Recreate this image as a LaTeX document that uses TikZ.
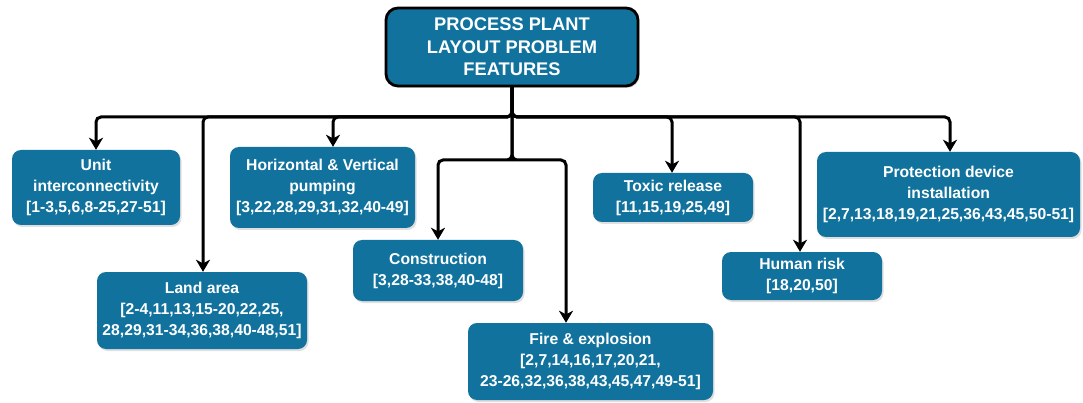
\documentclass[tikz,border=0pt]{standalone}
\usepackage{fontspec}
\setsansfont{Liberation Sans}
\usepackage{tikz}
\usetikzlibrary{calc,positioning,arrows.meta,shadows}
\definecolor{plantblue}{RGB}{16,114,157}

\begin{document}
\begin{tikzpicture}[x=1pt, y=1pt,
  feature/.style = {fill=plantblue, rounded corners=9pt, text=white, align=center, inner sep=0pt,
                    font=\sffamily\bfseries\fontsize{15.7}{21}\selectfont,
                    drop shadow={shadow xshift=1.5pt, shadow yshift=-2pt, opacity=0.25}},
  link/.style = {line width=3pt, rounded corners=5pt, -{Stealth[length=12pt,width=14pt,inset=3.5pt]}}]

\useasboundingbox (0,0) rectangle (1083,-403);

% top box
\node[feature, draw=black, line width=2.8pt, rounded corners=12pt, minimum width=252, minimum height=78,
      font=\sffamily\bfseries\fontsize{18.3}{22.5}\selectfont] (root) at (512,-47)
      {PROCESS PLANT\\LAYOUT PROBLEM\\FEATURES};

% feature boxes
\node[feature, minimum width=168, minimum height=75] (unit) at (96,-187.5)
      {Unit\\interconnectivity\\{[}1-3,5,6,8-25,27-51{]}};
\node[feature, minimum width=185, minimum height=81] (hv) at (322.5,-187.5)
      {Horizontal \& Vertical\\pumping\\{[}3,22,28,29,31,32,40-49{]}};
\node[feature, minimum width=210, minimum height=77] (land) at (202,-310.5)
      {Land area\\{[}2-4,11,13,15-20,22,25,\\28,29,31-34,36,38,40-48,51{]}};
\node[feature, minimum width=170, minimum height=61] (constr) at (438,-270.5)
      {Construction\\{[}3,28-33,38,40-48{]}};
\node[feature, minimum width=245, minimum height=77] (fire) at (590.5,-361.5)
      {Fire \& explosion\\{[}2,7,14,16,17,20,21,\\23-26,32,36,38,43,45,47,49-51{]}};
\node[feature, minimum width=160, minimum height=49] (toxic) at (673,-197.5)
      {Toxic release\\{[}11,15,19,25,49{]}};
\node[feature, minimum width=160, minimum height=48] (human) at (802,-276)
      {Human risk\\{[}18,20,50{]}};
\node[feature, minimum width=263, minimum height=85] (prot) at (948.5,-194.5)
      {Protection device\\installation\\{[}2,7,13,18,19,21,25,36,43,45,50-51{]}};

% connectors
\coordinate (bus) at (512,-117);
\coordinate (split) at (512,-160);
\foreach \n/\dx in {unit/0,land/1,hv/10.5,toxic/-1,human/-2,prot/1.5}
  {\draw[link] (root.south) |- ([xshift=\dx pt]\n.north |- bus) -- ([xshift=\dx pt]\n.north);}
\draw[link] (root.south) |- ([xshift=-5pt]split) -| (constr.north);
\draw[link] (root.south) |- ([xshift=5pt]split) -| ([xshift=-24.5pt]fire.north);
\end{tikzpicture}
\end{document}
